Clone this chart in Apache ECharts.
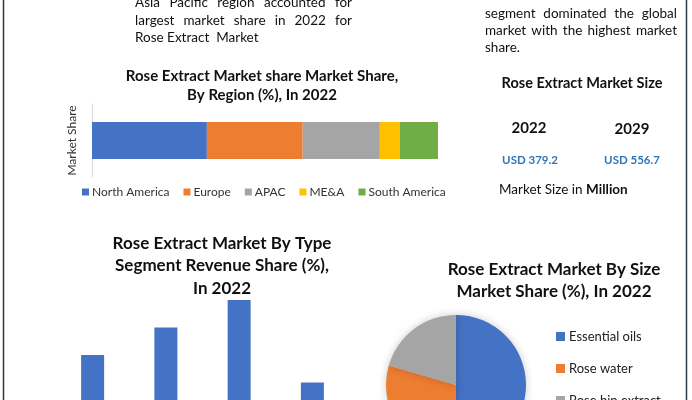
<!DOCTYPE html>
<html><head><meta charset="utf-8">
<script src="https://cdn.jsdelivr.net/npm/echarts@6/dist/echarts.min.js"></script>
<style>html,body{margin:0;padding:0;background:#fff}#c{width:692px;height:400px}</style>
</head><body><div id="c"></div>
<script>
const regionNames = ['North America', 'Europe', 'APAC', 'ME&A', 'South America'];
const regionShares = [33.2, 27.7, 22.3, 5.8, 11.0];
const regionColors = ['#4472c4', '#ed7d31', '#a5a5a5', '#ffc000', '#70ad47'];
const typeCategories = ['Segment 1', 'Segment 2', 'Segment 3', 'Segment 4'];
const typeShares = [20, 30, 40, 10];
const sizeNames = ['Essential oils', 'Rose water', 'Rose hip extract'];
const sizeShares = [50, 29.5, 20.5];
const sizeColors = ['#4472c4', '#ed7d31', '#a5a5a5'];
const marketYears = ['2022', '2029'];
const marketValues = ['USD 379.2', 'USD 556.7'];

const FONT = 'Lato, "Open Sans", sans-serif';
const cv = document.createElement('canvas').getContext('2d');
function justify(str, left, right, y, size, last) {
  const font = size + 'px ' + FONT;
  cv.font = font;
  const words = str.split(' ');
  const els = [];
  if (last) {
    els.push({type:'text', x:left, y:y, style:{text:str, font:font, fill:'#111', align:'left', verticalAlign:'middle'}});
    return els;
  }
  const widths = words.map(w => cv.measureText(w).width);
  const sum = widths.reduce((a,b)=>a+b,0);
  const gap = (right - left - sum) / (words.length - 1);
  let x = left;
  words.forEach((w,i) => {
    els.push({type:'text', x:x, y:y, style:{text:w, font:font, fill:'#111', align:'left', verticalAlign:'middle'}});
    x += widths[i] + gap;
  });
  return els;
}

const graphics = [
  {type:'line', shape:{x1:3.5,y1:0,x2:3.5,y2:400}, style:{stroke:'#2b3a4a', lineWidth:1.5}},
  {type:'line', shape:{x1:686.5,y1:0,x2:686.5,y2:400}, style:{stroke:'#2b3a4a', lineWidth:1.5}},
  ...justify('Asia Pacific region accounted for', 135, 352, 3, 13.5),
  ...justify('largest market share in 2022 for', 135, 352, 21, 13.5),
  ...justify('Rose Extract  Market', 135, 352, 38, 13.5, true),
  ...justify('segment dominated the global', 485, 677, 14, 13.5),
  ...justify('market with the highest market', 485, 677, 31, 13.5),
  ...justify('share.', 485, 677, 48, 13.5, true),
  {type:'text', x:582, y:83, style:{text:'Rose Extract Market Size', font:'bold 14.5px ' + FONT, fill:'#111', align:'center', verticalAlign:'middle'}},
  {type:'text', x:529, y:128, style:{text:marketYears[0], font:'bold 15px ' + FONT, fill:'#111', align:'center', verticalAlign:'middle'}},
  {type:'text', x:632, y:129, style:{text:marketYears[1], font:'bold 15px ' + FONT, fill:'#111', align:'center', verticalAlign:'middle'}},
  {type:'text', x:530, y:160, style:{text:marketValues[0], font:'bold 11.5px ' + FONT, fill:'#2e75b6', align:'center', verticalAlign:'middle'}},
  {type:'text', x:632, y:160, style:{text:marketValues[1], font:'bold 11.5px ' + FONT, fill:'#2e75b6', align:'center', verticalAlign:'middle'}},
  {type:'text', x:499, y:190, style:{text:'{n|Market Size in }{b|Million}', align:'left', verticalAlign:'middle',
    rich:{n:{font:'13.5px ' + FONT, fill:'#111'}, b:{font:'bold 13.5px ' + FONT, fill:'#111'}}}}
];

// value axis for type chart: 2.75 px per unit, baseline (0) sits 10px below the canvas edge
const typeAxisMin = 10 / 2.75;

const chart = echarts.init(document.getElementById('c'), null, {renderer:'canvas'});
chart.setOption({
  animation:false,
  backgroundColor:'#fff',
  textStyle:{fontFamily:FONT},
  title:[
    {text:'Rose Extract Market share Market Share,\nBy Region (%), In 2022', left:257, top:62, textAlign:'center',
      textStyle:{fontSize:15, fontWeight:'bold', color:'#111', lineHeight:19}},
    {text:'Rose Extract Market By Type\nSegment Revenue Share (%),\nIn 2022', left:217, top:227, textAlign:'center',
      textStyle:{fontSize:17, fontWeight:'bold', color:'#111', lineHeight:22.5}},
    {text:'Rose Extract Market By Size\nMarket Share (%), In 2022', left:549, top:254, textAlign:'center',
      textStyle:{fontSize:17, fontWeight:'bold', color:'#111', lineHeight:22}}
  ],
  legend:[
    {data:regionNames, left:77, top:181, itemWidth:7, itemHeight:7, itemGap:14, icon:'rect',
      textStyle:{fontSize:12, color:'#333', padding:[0,0,0,-2]}},
    {data:sizeNames, orient:'vertical', left:551, top:325, height:200, itemWidth:9, itemHeight:9, itemGap:19, icon:'rect',
      textStyle:{fontSize:13, color:'#222', padding:[0,0,0,-1]}}
  ],
  grid:[
    {left:92, right:254, top:104, height:73},
    {left:56, right:343, top:272.5, bottom:0}
  ],
  xAxis:[
    {gridIndex:0, type:'value', min:0, max:100, show:false},
    {gridIndex:1, type:'category', data:typeCategories, show:false}
  ],
  yAxis:[
    {gridIndex:0, type:'category', data:['Market Share'], name:'Market Share', nameLocation:'middle', nameRotate:90, nameGap:14,
      nameTextStyle:{fontSize:12, color:'#333'},
      axisLine:{show:true, lineStyle:{color:'#d9d9d9'}}, axisTick:{show:false}, axisLabel:{show:false}},
    {gridIndex:1, type:'value', min:typeAxisMin, max:50, show:false}
  ],
  series:[
    ...regionNames.map((n,i) => ({
      name:n, type:'bar', stack:'r', xAxisIndex:0, yAxisIndex:0, barWidth:37,
      itemStyle:{color:regionColors[i]}, data:[regionShares[i]]
    })),
    {type:'bar', xAxisIndex:1, yAxisIndex:1, barWidth:23, itemStyle:{color:'#4472c4'}, data:typeShares},
    {type:'pie', center:[456, 385], radius:70, startAngle:90, clockwise:true, label:{show:false}, labelLine:{show:false},
      itemStyle:{shadowBlur:8, shadowColor:'rgba(0,0,0,0.2)'},
      data:sizeNames.map((n,i) => ({name:n, value:sizeShares[i], itemStyle:{color:sizeColors[i]}}))}
  ],
  graphic:graphics
});
</script></body></html>
